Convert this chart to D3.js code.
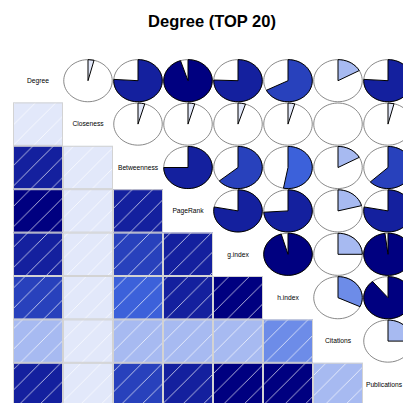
<!DOCTYPE html>
<html lang="en">
<head>
    <meta charset="UTF-8">
    <title>Degree (TOP 20)</title>
    <script src="https://cdn.jsdelivr.net/npm/d3@7/dist/d3.min.js"></script>
    <style>
        body { margin: 0; background: #fff; }
        text { font-family: "Liberation Sans", Arial, sans-serif; }
    </style>
</head>
<body>
    <svg width="403" height="403" id="mainsvg" style="display: block;"></svg>
    <script>
        // variables on the diagonal
        const variables = ["Degree", "Closeness", "Betweenness", "PageRank", "g.index", "h.index", "Citations", "Publications"];
        // correlations of each variable with the ones after it (upper triangle, row by row)
        const corDegree      = [0.04, 0.76, 0.95, 0.755, 0.675, 0.17, 0.76];
        const corCloseness   = [0.045, 0.045, 0.05, 0.045, 0.005, 0.04];
        const corBetweenness = [0.75, 0.64, 0.53, 0.17, 0.63];
        const corPageRank    = [0.78, 0.74, 0.21, 0.78];
        const corGIndex      = [0.955, 0.25, 0.98];
        const corHIndex      = [0.32, 0.89];
        const corCitations   = [0.25];
        const corRows = [corDegree, corCloseness, corBetweenness, corPageRank, corGIndex, corHIndex, corCitations];

        const svg = d3.select("#mainsvg");
        const width = +svg.attr("width");
        const n = variables.length;
        const cellW = 50, cellH = 43.4;
        const marginLeft = 13, marginTop = 59;

        const x = d3.scaleBand().domain(variables).range([marginLeft, marginLeft + n * cellW]);
        const y = d3.scaleBand().domain(variables).range([marginTop, marginTop + n * cellH]);

        // colorRampPalette(c("red","salmon","white","royalblue","navy"))(14)
        const ramp = d3.scaleLinear()
            .domain([0, 0.25, 0.5, 0.75, 1])
            .range(["red", "salmon", "white", "royalblue", "navy"])
            .interpolate(d3.interpolateRgb);
        const pal = d3.range(14).map(i => ramp(i / 13));
        const color = d3.scaleQuantize().domain([-1, 1]).range(pal);

        // pairs table
        const pairs = [];
        corRows.forEach((row, i) => {
            row.forEach((r, k) => {
                const j = i + k + 1;
                pairs.push({ a: variables[i], b: variables[j], r: r });
            });
        });

        // hatching pattern (45 degree white lines)
        const hs = 20.4;
        const pat = svg.append("defs").append("pattern")
            .attr("id", "hatch")
            .attr("patternUnits", "userSpaceOnUse")
            .attr("x", 15.8).attr("y", 0)
            .attr("width", hs).attr("height", hs);
        [[0, hs, hs, 0], [-2, 2, 2, -2], [hs - 2, hs + 2, hs + 2, hs - 2]].forEach(l => {
            pat.append("line")
                .attr("x1", l[0]).attr("y1", l[1]).attr("x2", l[2]).attr("y2", l[3])
                .attr("stroke", "#fff").attr("stroke-width", 0.8).attr("stroke-opacity", 0.85);
        });

        // lower panel: shaded squares
        const lower = svg.append("g");
        lower.selectAll("rect.shade").data(pairs).join("rect")
            .attr("class", "shade")
            .attr("x", d => x(d.a))
            .attr("y", d => y(d.b))
            .attr("width", x.bandwidth())
            .attr("height", y.bandwidth())
            .attr("fill", d => color(d.r));
        lower.selectAll("rect.hatch").data(pairs).join("rect")
            .attr("class", "hatch")
            .attr("x", d => x(d.a))
            .attr("y", d => y(d.b))
            .attr("width", x.bandwidth())
            .attr("height", y.bandwidth())
            .attr("fill", "url(#hatch)");
        lower.selectAll("rect.box").data(pairs).join("rect")
            .attr("class", "box")
            .attr("x", d => x(d.a) + 0.5)
            .attr("y", d => y(d.b) + 0.5)
            .attr("width", x.bandwidth() - 1)
            .attr("height", y.bandwidth() - 1)
            .attr("fill", "none")
            .attr("stroke", "#d3d3d3")
            .attr("stroke-width", 1);

        // upper panel: pies
        const rx = x.bandwidth() / 2 * 0.97;
        const ry = y.bandwidth() / 2 * 0.97;
        const line = d3.line();

        const pies = svg.append("g").selectAll("g").data(pairs).join("g")
            .attr("transform", d => `translate(${x(d.b) + x.bandwidth() / 2}, ${y(d.a) + y.bandwidth() / 2})`);

        pies.append("path")
            .attr("fill", "none")
            .attr("stroke", "#7a7a7a")
            .attr("stroke-width", 0.9)
            .attr("d", () => line(d3.range(60).map(i => {
                const a = 2 * Math.PI * i / 59;
                return [Math.cos(a) * rx, -Math.sin(a) * ry];
            })));

        pies.filter(d => Math.round(60 * Math.abs(d.r)) > 0).append("path")
            .attr("fill", d => color(d.r))
            .attr("stroke", "#000")
            .attr("stroke-width", 1)
            .attr("stroke-linejoin", "miter")
            .attr("d", d => {
                const seg = Math.round(60 * Math.abs(d.r));
                const pts = d3.range(seg).map(i => {
                    const a = Math.PI / 2 - (seg > 1 ? 2 * Math.PI * d.r * i / (seg - 1) : 0);
                    return [Math.cos(a) * rx, -Math.sin(a) * ry];
                });
                pts.push([0, 0]);
                return line(pts) + "Z";
            });

        // diagonal labels (kept inside the window)
        svg.append("g").selectAll("text").data(variables).join("text")
            .attr("x", d => x(d) + x.bandwidth() / 2)
            .attr("y", d => y(d) + y.bandwidth() / 2)
            .attr("dy", "0.35em")
            .attr("text-anchor", "middle")
            .attr("font-size", 6.7)
            .attr("fill", "#000")
            .text(d => d)
            .each(function(d) {
                const w = this.getComputedTextLength();
                const cx = x(d) + x.bandwidth() / 2;
                if (cx + w / 2 > width - 1) d3.select(this).attr("x", width - 1 - w / 2);
            });

        // title
        svg.append("text")
            .attr("x", 212)
            .attr("y", 27)
            .attr("text-anchor", "middle")
            .attr("font-size", 16.5)
            .attr("font-weight", "bold")
            .text("Degree (TOP 20)");
    </script>
</body>
</html>
